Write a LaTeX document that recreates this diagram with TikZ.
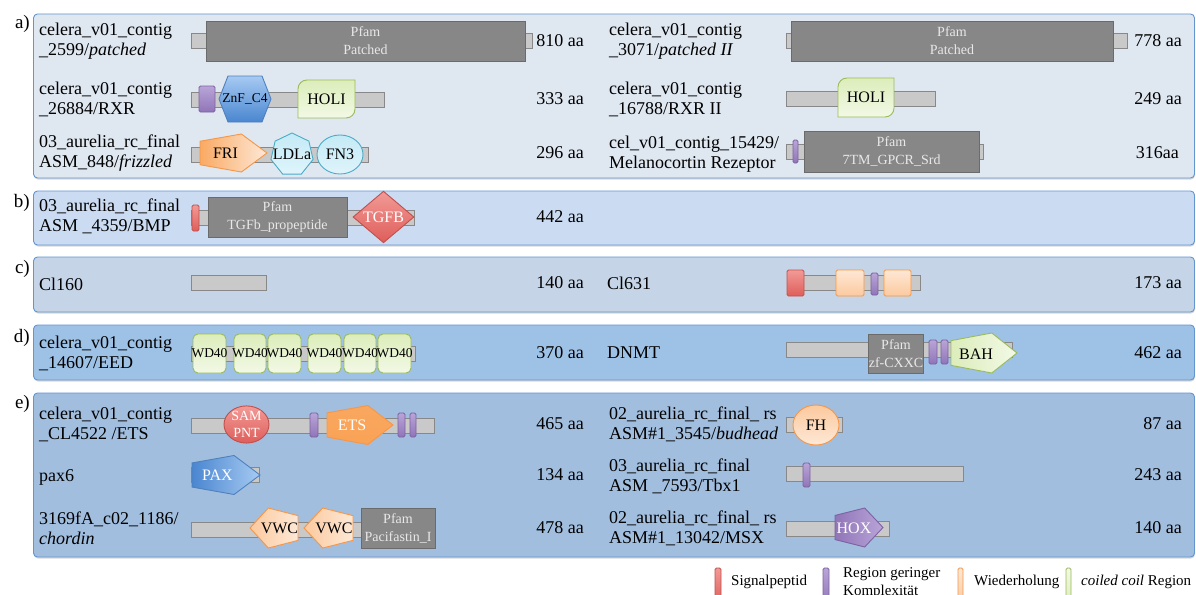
\documentclass[tikz,border=0pt]{standalone}
\usepackage{fontspec}
\setmainfont{Liberation Serif}
\usetikzlibrary{shapes.geometric,shadows}

\definecolor{bbFill}{HTML}{C9C9C9}
\definecolor{bbLine}{HTML}{888888}
\definecolor{pfFill}{HTML}{878787}
\definecolor{pfLine}{HTML}{6B6B6B}
\definecolor{pfText}{HTML}{E8E8E8}
\definecolor{panelLine}{HTML}{6396CF}
\definecolor{panA}{HTML}{DFE7F1}
\definecolor{panB}{HTML}{CBDCF2}
\definecolor{panC}{HTML}{C5D5E7}
\definecolor{panD}{HTML}{9EC1E6}
\definecolor{panE}{HTML}{A1BEDF}
\definecolor{redLine}{HTML}{C0504D}
\definecolor{redDark}{HTML}{DE5E5A}
\definecolor{redLight}{HTML}{F29A96}
\definecolor{purLine}{HTML}{7E62A1}
\definecolor{purDark}{HTML}{9075B8}
\definecolor{purLight}{HTML}{B9A5D8}
\definecolor{orLine}{HTML}{F79646}
\definecolor{orDark}{HTML}{F9A255}
\definecolor{orMid}{HTML}{FCC99E}
\definecolor{orLight}{HTML}{FDE8D6}
\definecolor{grLine}{HTML}{9BBB59}
\definecolor{grDark}{HTML}{DCEDBA}
\definecolor{grLight}{HTML}{F2F9E6}
\definecolor{blLine}{HTML}{4F81BD}
\definecolor{blDark}{HTML}{4A86D0}
\definecolor{blLight}{HTML}{A6CAF2}
\definecolor{aqLine}{HTML}{4BACC6}
\definecolor{aqFill}{HTML}{C4EAF6}
\definecolor{aqLight}{HTML}{DFF4FB}

\begin{document}
\begin{tikzpicture}[x=1pt,y=-1pt,
    bbone/.style={draw=bbLine,fill=bbFill,line width=0.9pt},
    pfam/.style={draw=pfLine,fill=pfFill,line width=0.9pt,text=pfText,align=center,
      inner sep=0pt,font=\fontsize{14}{18}\selectfont},
    lowcomp/.style={draw=purLine,top color=purLight,bottom color=purDark,rounded corners=1.5pt,line width=0.8pt},
    signal/.style={draw=redLine,top color=redLight,bottom color=redDark,rounded corners=1.5pt,line width=0.8pt},
    repeatbox/.style={draw=orLine,top color=orLight,bottom color=orMid,rounded corners=1.5pt,line width=0.8pt},
    coilbox/.style={draw=grLine,top color=grLight,bottom color=grDark,rounded corners=1.5pt,line width=0.8pt},
    protname/.style={anchor=west,align=left,inner sep=0pt,font=\fontsize{18}{20}\selectfont},
    protlen/.style={anchor=east,inner sep=0pt,font=\fontsize{18}{20}\selectfont},
    domtext/.style={inner sep=0pt,font=\fontsize{16}{18}\selectfont},
    legtext/.style={anchor=west,inner sep=0pt,font=\fontsize{15}{18}\selectfont},
    panel/.style={draw=panelLine,line width=0.9pt,rounded corners=4pt,
      drop shadow={shadow xshift=0.5pt,shadow yshift=-1.5pt,opacity=0.3}},
    panlabel/.style={anchor=east,inner sep=0pt,font=\fontsize{19}{20}\selectfont},
  ]
    \newcommand{\bbone}[3]{% x1, x2, y centre
        \draw[bbone] (#1,{#3-7.5}) rectangle (#2,{#3+7.5});
    }
    \newcommand{\pentR}[5]{% x1, x2, y centre, height, style
        \draw[#5] (#2,#3) -- ({#1+0.618*(#2-#1)},{#3-#4/2}) -- (#1,{#3-0.309*#4})
          -- (#1,{#3+0.309*#4}) -- ({#1+0.618*(#2-#1)},{#3+#4/2}) -- cycle;
    }
    \newcommand{\pentL}[5]{%
        \draw[#5] (#1,#3) -- ({#2-0.618*(#2-#1)},{#3-#4/2}) -- (#2,{#3-0.309*#4})
          -- (#2,{#3+0.309*#4}) -- ({#2-0.618*(#2-#1)},{#3+#4/2}) -- cycle;
    }
    \newcommand{\holi}[5]{% x1, x2, y1, y2, name
        \draw[draw=grLine,top color=grDark,bottom color=grLight,line width=0.9pt]
          (#1,#4) -- (#1,{#3+9}) .. controls (#1,{#3+4}) and ({#1+4},#3) .. ({#1+9},#3)
          -- (#2,#3) -- (#2,{#4-9}) .. controls (#2,{#4-4}) and ({#2-4},#4) .. ({#2-9},#4) -- cycle;
        \node[domtext] (#5) at ({(#1+#2)/2},{(#3+#4)/2}) {HOLI};
    }

\useasboundingbox (0,0) rectangle (1196,594);
\clip (0,0) rectangle (1196,594);
\fill[white] (0,0) rectangle (1196,594);

% panels
\draw[panel,fill=panA] (33.5,14) rectangle (1194.5,178);
\draw[panel,fill=panB] (33.5,191) rectangle (1194.5,245);
\draw[panel,fill=panC] (33.5,257) rectangle (1194.5,312);
\draw[panel,fill=panD] (33.5,325) rectangle (1194.5,380);
\draw[panel,fill=panE] (33.5,393) rectangle (1194.5,557);
\node[panlabel] (labA) at (30,24) {a)};
\node[panlabel] (labB) at (30,203) {b)};
\node[panlabel] (labC) at (30,269) {c)};
\node[panlabel] (labD) at (30,338) {d)};
\node[panlabel] (labE) at (30,404) {e)};

% a) left column
\node[protname] (ptc) at (39,41) {celera\_v01\_contig\\\_2599/\textit{patched}};
\bbone{191}{532}{41}
\node[pfam,minimum width=319pt,minimum height=40pt] (ptcPfam) at (365.5,41) {Pfam\\Patched};
\node[protlen] (ptcLen) at (584,41) {810 aa};

\node[protname] (rxr) at (39,99) {celera\_v01\_contig\\\_26884/RXR};
\bbone{191}{384}{99.5}
\draw[lowcomp] (199,86) rectangle (215,112);
\draw[draw=blLine,top color=blLight,bottom color=blDark,line width=0.9pt]
  (219,99) -- (228,76) -- (262,76) -- (271,99) -- (262,122) -- (228,122) -- cycle;
\node[inner sep=0pt,font=\fontsize{13.5}{15}\selectfont] (rxrZnf) at (245,99) {ZnF\_C4};
\holi{298}{355}{80}{118}{rxrHoli}
\node[protlen] (rxrLen) at (584,99) {333 aa};

\node[protname] (fzd) at (39,153) {03\_aurelia\_rc\_final\\ASM\_848/\textit{frizzled}};
\bbone{191}{368}{154.5}
\pentR{200}{267}{153}{38}{draw=orLine,left color=orDark!80!orMid,right color=orLight,line width=0.9pt}
\node[domtext] (fzdFri) at (225.5,153) {FRI};
\draw[draw=aqLine,top color=aqFill,bottom color=aqLight,line width=0.9pt]
  plot[samples at={0,...,6}] ({292+21.6*cos(-90+\x*360/7)},{154.6+21.6*sin(-90+\x*360/7)}) -- cycle;
\node[domtext] (fzdLdl) at (292,154) {LDLa};
\node[ellipse,minimum width=46pt,minimum height=39pt,inner sep=0pt,draw=aqLine,
  top color=aqFill,bottom color=aqLight,line width=0.9pt,font=\fontsize{16}{18}\selectfont] (fzdFn) at (340,154.5) {FN3};
\node[protlen] (fzdLen) at (584,153) {296 aa};

% a) right column
\node[protname] (ptcb) at (609,41) {celera\_v01\_contig\\\_3071/\textit{patched II}};
\bbone{786}{1127}{41}
\node[pfam,minimum width=322pt,minimum height=40pt] (ptcbPfam) at (952,41) {Pfam\\Patched};
\node[protlen] (ptcbLen) at (1182,41) {778 aa};

\node[protname] (rxrb) at (609,99) {celera\_v01\_contig\\\_16788/RXR II};
\bbone{786}{935}{99}
\holi{838}{894}{78}{117}{rxrbHoli}
\node[protlen] (rxrbLen) at (1182,99) {249 aa};

\node[protname] (mcr) at (609,154) {cel\_v01\_contig\_15429/\\Melanocortin Rezeptor};
\bbone{786}{983}{151.5}
\draw[lowcomp] (793,140) rectangle (798,163);
\node[pfam,minimum width=175pt,minimum height=41pt] (mcrPfam) at (891.5,151.5) {Pfam\\7TM\_GPCR\_Srd};
\node[protlen] (mcrLen) at (1179,153) {316aa};

% b)
\node[protname] (bmp) at (39,216) {03\_aurelia\_rc\_final\\ASM \_4359/BMP};
\bbone{191}{414}{217.5}
\draw[signal] (192,205) rectangle (199,231);
\node[pfam,minimum width=139pt,minimum height=40pt] (bmpPfam) at (277.5,217) {Pfam\\TGFb\_propeptide};
\node[diamond,minimum width=61pt,minimum height=48pt,inner sep=0pt,draw=redLine,
  top color=redLight,bottom color=redDark,line width=0.9pt,text=white,
  font=\fontsize{16}{18}\selectfont] (bmpTgfb) at (383.5,217) {TGFB};
\node[protlen] (bmpLen) at (584,217) {442 aa};

% c)
\node[protname] (clA) at (39,284) {Cl160};
\bbone{191}{266}{283}
\node[protlen] (clALen) at (584,283) {140 aa};

\node[protname] (clB) at (607,283) {Cl631};
\bbone{787}{920}{283}
\draw[signal] (787,270) rectangle (804,296);
\draw[repeatbox] (836,270) rectangle (864,296);
\draw[lowcomp] (871,273) rectangle (878,295);
\draw[repeatbox] (884,270) rectangle (911,296);
\node[protlen] (clBLen) at (1182,283) {173 aa};

% d)
\node[protname] (eed) at (39,353) {celera\_v01\_contig\\\_14607/EED};
\bbone{191}{415}{353.5}
\foreach \xa/\xb [count=\i] in {193/226,234/266,268/301,308/341,344/376,378/411}{
  \draw[draw=grLine,top color=grDark,bottom color=grLight,rounded corners=5pt,line width=0.9pt]
    (\xa,334) rectangle (\xb,373);
  \node[inner sep=0pt,font=\fontsize{13.5}{15}\selectfont] (wd\i) at ({(\xa+\xb)/2},353.5) {WD40};
}
\node[protlen] (eedLen) at (584,353) {370 aa};

\node[protname] (dnmt) at (607,353) {DNMT};
\bbone{786}{1012}{349.5}
\node[pfam,minimum width=54pt,minimum height=39pt] (dnmtPfam) at (896,353.5) {Pfam\\zf-CXXC};
\draw[lowcomp] (929,340) rectangle (937,364);
\draw[lowcomp] (941,340) rectangle (948,364);
\pentR{951}{1017}{353}{40}{draw=grLine,left color=grDark,right color=grLight,line width=0.9pt}
\node[domtext] (dnmtBah) at (976,354) {BAH};
\node[protlen] (dnmtLen) at (1182,353) {462 aa};

% e) left column
\node[protname] (ets) at (39,424) {celera\_v01\_contig\\\_CL4522 /ETS};
\bbone{191}{434}{425.5}
\node[ellipse,minimum width=45pt,minimum height=35pt,inner sep=0pt,draw=redLine,
  top color=redLight,bottom color=redDark,line width=0.9pt,text=white,align=center,
  font=\fontsize{14}{17}\selectfont] (etsSam) at (246.5,424.5) {SAM\\PNT};
\draw[lowcomp] (310,413) rectangle (318,437);
\pentR{327}{393}{425}{39}{draw=orLine,top color=orDark!85!orMid,bottom color=orDark,line width=0.9pt}
\node[domtext,text=white] (etsEts) at (352,425) {ETS};
\draw[lowcomp] (398,413) rectangle (405,437);
\draw[lowcomp] (410,413) rectangle (416,437);
\node[protlen] (etsLen) at (584,424) {465 aa};

\node[protname] (pax) at (39,477) {pax6};
\bbone{191}{259}{474.5}
\pentR{192}{260}{475}{39}{draw=blLine,left color=blDark,right color=blLight,line width=0.9pt}
\node[domtext,text=white] (paxPax) at (217.5,475) {PAX};
\node[protlen] (paxLen) at (584,475) {134 aa};

\node[protname] (chd) at (39,528) {3169fA\_c02\_1186/\\\textit{chordin}};
\bbone{191}{434}{530}
\pentL{250}{298}{528}{40}{draw=orLine,left color=orMid,right color=orLight,line width=0.9pt}
\node[domtext] (chdVwcA) at (279.5,528) {VWC};
\pentL{304}{353}{528}{40}{draw=orLine,left color=orMid,right color=orLight,line width=0.9pt}
\node[domtext] (chdVwcB) at (334,528) {VWC};
\node[pfam,minimum width=74pt,minimum height=40pt] (chdPfam) at (398,528) {Pfam\\Pacifastin\_I};
\node[protlen] (chdLen) at (584,528) {478 aa};

% e) right column
\node[protname] (bud) at (609,424) {02\_aurelia\_rc\_final\_ rs\\ASM\#1\_3545/\textit{budhead}};
\bbone{786}{842}{424.5}
\node[ellipse,minimum width=46pt,minimum height=40pt,inner sep=0pt,draw=orLine,
  top color=orMid,bottom color=orLight,line width=0.9pt,
  font=\fontsize{16}{18}\selectfont] (budFh) at (816,425) {FH};
\node[protlen] (budLen) at (1182,424) {87 aa};

\node[protname] (tbx) at (609,476) {03\_aurelia\_rc\_final\\ASM \_7593/Tbx1};
\bbone{786}{963}{474}
\draw[lowcomp] (803,463) rectangle (810,487);
\node[protlen] (tbxLen) at (1182,475) {243 aa};

\node[protname] (msx) at (609,528) {02\_aurelia\_rc\_final\_ rs\\ASM\#1\_13042/MSX};
\bbone{786}{889}{529}
\pentR{835}{883}{527.5}{39}{draw=purLine,left color=purDark,right color=purLight,line width=0.9pt}
\node[domtext,text=white] (msxHox) at (854,528) {HOX};
\node[protlen] (msxLen) at (1182,528) {140 aa};

% legend
\draw[signal] (715,568) rectangle (721,604);
\node[legtext] (legSig) at (731,582) {Signalpeptid};
\draw[lowcomp] (823,568) rectangle (829,604);
\node[legtext] (legLowA) at (843,574) {Region geringer};
\node[legtext] (legLowB) at (843,592) {Komplexität};
\draw[repeatbox] (958,568) rectangle (963,604);
\node[legtext] (legRep) at (974,582) {Wiederholung};
\draw[coilbox] (1066,568) rectangle (1071,604);
\node[legtext] (legCoil) at (1081,582) {\textit{coiled coil} Region};

\end{tikzpicture}
\end{document}
